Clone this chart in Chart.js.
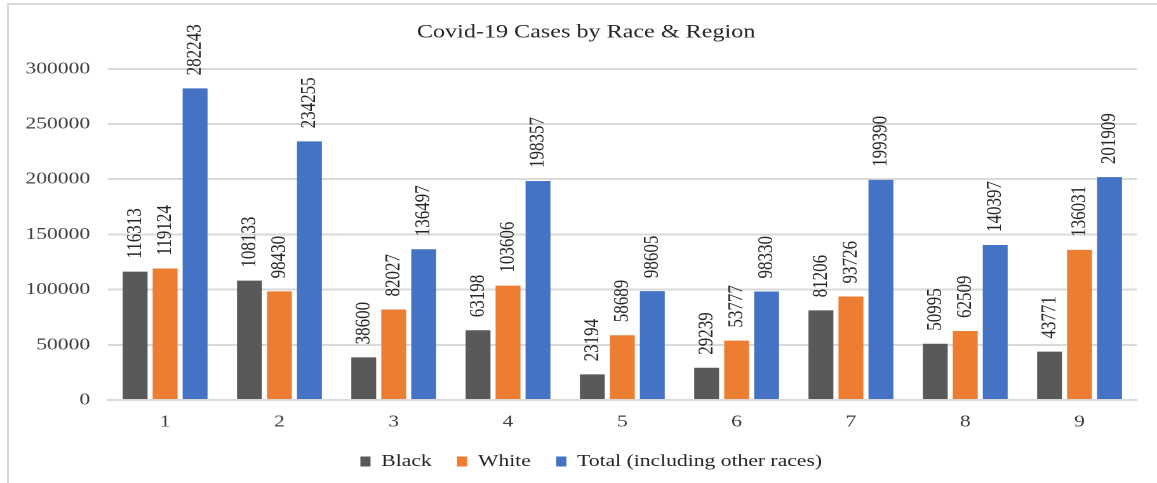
<!DOCTYPE html>
<html>
<head>
<meta charset="utf-8">
<script src="https://cdn.jsdelivr.net/npm/chart.js@4.4.0/dist/chart.umd.min.js"></script>
<style>
  html, body { margin: 0; padding: 0; background: #fff; }
  body { width: 1157px; height: 483px; overflow: hidden; position: relative; }
  #frame {
    position: absolute; left: 7px; top: 3px; width: 1200px; height: 520px;
    border-left: 2px solid #d9d9d9; border-top: 2px solid #d9d9d9;
  }
  /* the reference is a horizontally stretched screenshot, so stretch the canvas too */
  #wrap {
    position: absolute; left: 0; top: 0; width: 911px; height: 483px;
    transform: scaleX(1.27003); transform-origin: 0 0;
  }
</style>
</head>
<body>
<div id="frame"></div>
<div id="wrap"><canvas id="c"></canvas></div>
<script>
const categories = ['1', '2', '3', '4', '5', '6', '7', '8', '9'];
const blackCases = [116313, 108133, 38600, 63198, 23194, 29239, 81206, 50995, 43771];
const whiteCases = [119124, 98430, 82027, 103606, 58689, 53777, 93726, 62509, 136031];
const totalCases = [282243, 234255, 136497, 198357, 98605, 98330, 199390, 140397, 201909];
const seriesNames = ['Black', 'White', 'Total (including other races)'];
const seriesColors = ['#595959', '#ED7D31', '#4472C4'];

const serif = "'Liberation Serif', 'Times New Roman', serif";

// vertical value labels above each bar
const barLabels = {
  id: 'barLabels',
  afterDatasetsDraw(chart) {
    const ctx = chart.ctx;
    ctx.save();
    ctx.font = '17px ' + serif;
    ctx.fillStyle = '#262626';
    ctx.textAlign = 'left';
    ctx.textBaseline = 'middle';
    chart.data.datasets.forEach((ds, i) => {
      const meta = chart.getDatasetMeta(i);
      meta.data.forEach((bar, j) => {
        ctx.save();
        ctx.translate(bar.x, bar.y - 13);
        ctx.rotate(-Math.PI / 2);
        ctx.fillText(String(ds.data[j]), 0, 0);
        ctx.restore();
      });
    });
    ctx.restore();
  }
};

// title and legend sit centred on the whole frame, not on the canvas box
const nudge = {
  id: 'nudge',
  afterLayout(chart) {
    chart.titleBlock.left += 11; chart.titleBlock.right += 11;
    chart.legend.left += 15; chart.legend.right += 15;
  }
};

const datasets = [blackCases, whiteCases, totalCases].map((vals, i) => ({
  label: seriesNames[i],
  data: vals,
  backgroundColor: seriesColors[i],
  categoryPercentage: 0.787,
  barPercentage: 0.83,
}));

new Chart(document.getElementById('c'), {
  type: 'bar',
  data: { labels: categories, datasets: datasets },
  plugins: [barLabels, nudge],
  options: {
    responsive: true,
    maintainAspectRatio: false,
    animation: false,
    devicePixelRatio: 2,
    layout: { padding: { left: 6, right: 16, top: 0, bottom: 3 } },
    plugins: {
      title: {
        display: true,
        text: 'Covid-19 Cases by Race & Region',
        color: '#262626',
        font: { family: serif, size: 19, weight: 'normal' },
        padding: { top: 21, bottom: 25 },
      },
      legend: {
        position: 'bottom',
        labels: {
          boxWidth: 8,
          boxHeight: 10,
          padding: 20,
          color: '#262626',
          font: { family: serif, size: 17 },
        },
      },
      tooltip: { enabled: false },
    },
    scales: {
      x: {
        grid: { display: false, drawTicks: false },
        border: { color: '#d9d9d9', width: 2 },
        ticks: { color: '#404040', padding: 12, font: { family: serif, size: 17 } },
        afterFit(scale) { scale.height = 33; },
      },
      y: {
        min: 0,
        max: 300000,
        grid: { color: '#d9d9d9', lineWidth: 2, drawTicks: false },
        border: { display: false },
        ticks: {
          stepSize: 50000,
          color: '#404040',
          padding: 14,
          font: { family: serif, size: 17 },
          callback: (v) => String(v),
        },
        afterFit(scale) { scale.width = 79; },
      },
    },
  },
});
</script>
</body>
</html>
